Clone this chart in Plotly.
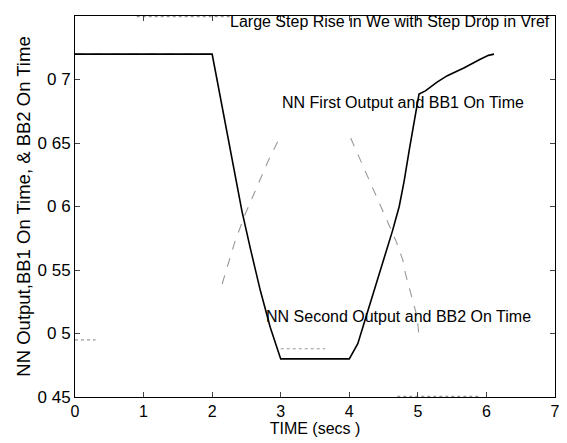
import plotly.graph_objects as go

# Main solid response (TIME secs, value)
main_t = [0.0, 2.0, 2.074, 2.171, 2.268, 2.349, 2.436, 2.557, 2.702, 2.847, 2.967, 3.0,
          4.0, 4.124, 4.221, 4.317, 4.414, 4.534, 4.631, 4.728, 4.80, 4.873, 4.954, 5.017,
          5.11, 5.28, 5.43, 5.67, 5.91, 6.03, 6.11]
main_v = [0.72, 0.72, 0.699, 0.671, 0.644, 0.620, 0.596, 0.567, 0.534, 0.505, 0.484, 0.48,
          0.48, 0.492, 0.509, 0.526, 0.543, 0.563, 0.581, 0.600, 0.620, 0.644, 0.670, 0.6885,
          0.691, 0.698, 0.703, 0.709, 0.716, 0.719, 0.72]

# NN first output (dashed grey)
nn1_t = [0.0, 2.0, None, 2.146, 2.33, 2.475, 2.63, 2.81, 2.99, None, 4.02, 4.68, 4.78, 4.82, 4.99, 5.02]
nn1_v = [0.72, 0.72, None, 0.539, 0.572, 0.593, 0.6125, 0.635, 0.655, None, 0.654, 0.573, 0.558, 0.547, 0.513, 0.496]

# NN second output (dotted grey)
nn2_t = [0.0, 0.3, None, 3.0, 3.65, None, 0.9, 2.3, None, 4.7, 5.9]
nn2_v = [0.495, 0.495, None, 0.488, 0.488, None, 0.7495, 0.7495, None, 0.4505, 0.4505]

x_ticks = [0, 1, 2, 3, 4, 5, 6, 7]
y_ticks = [0.45, 0.5, 0.55, 0.6, 0.65, 0.7, 0.75]
y_tick_text = ["0 45", "0 5", "0 55", "0 6", "0 65", "0 7", "0 75"]

fig = go.Figure()
fig.add_trace(go.Scatter(x=nn1_t, y=nn1_v, mode="lines",
                         line=dict(color="#999999", width=1.1, dash="dash"), showlegend=False))
fig.add_trace(go.Scatter(x=nn2_t, y=nn2_v, mode="lines",
                         line=dict(color="#999999", width=1.1, dash="dot"), showlegend=False))
fig.add_trace(go.Scatter(x=main_t, y=main_v, mode="lines",
                         line=dict(color="black", width=1.6), showlegend=False))

font = "Liberation Sans, Arial, sans-serif"
fig.add_annotation(x=7, y=0.7453, xref="x", yref="y", xshift=-3,
                   text="Large Step Rise in We with Step Drop in Vref",
                   showarrow=False, xanchor="right", font=dict(size=16, color="black", family=font))
fig.add_annotation(x=4.78, y=0.6817, xref="x", yref="y", text="NN First Output and BB1 On Time",
                   showarrow=False, xanchor="center", font=dict(size=16, color="black", family=font))
fig.add_annotation(x=4.72, y=0.5136, xref="x", yref="y", text="NN Second Output and BB2 On Time",
                   showarrow=False, xanchor="center", font=dict(size=16, color="black", family=font))

fig.update_layout(
    width=559, height=435,
    margin=dict(l=67, r=8, t=7, b=46),
    paper_bgcolor="white", plot_bgcolor="white",
    font=dict(family=font, size=16, color="black"),
    xaxis=dict(range=[0, 7], tickvals=x_ticks, ticks="inside", ticklen=5, mirror="ticks",
               showline=True, linecolor="black", linewidth=1, showgrid=False, zeroline=False,
               title=dict(text="TIME (secs )", standoff=2, font=dict(size=16)),
               tickfont=dict(size=16)),
    yaxis=dict(range=[0.45, 0.75], tickvals=y_ticks, ticktext=y_tick_text, ticks="inside",
               ticklen=5, mirror="ticks", showline=True, linecolor="black", linewidth=1,
               showgrid=False, zeroline=False,
               title=dict(text="NN Output,BB1 On Time, & BB2 On Time", standoff=2,
                          font=dict(size=18.5)),
               tickfont=dict(size=17)),
)

fig.write_html("out.html")
